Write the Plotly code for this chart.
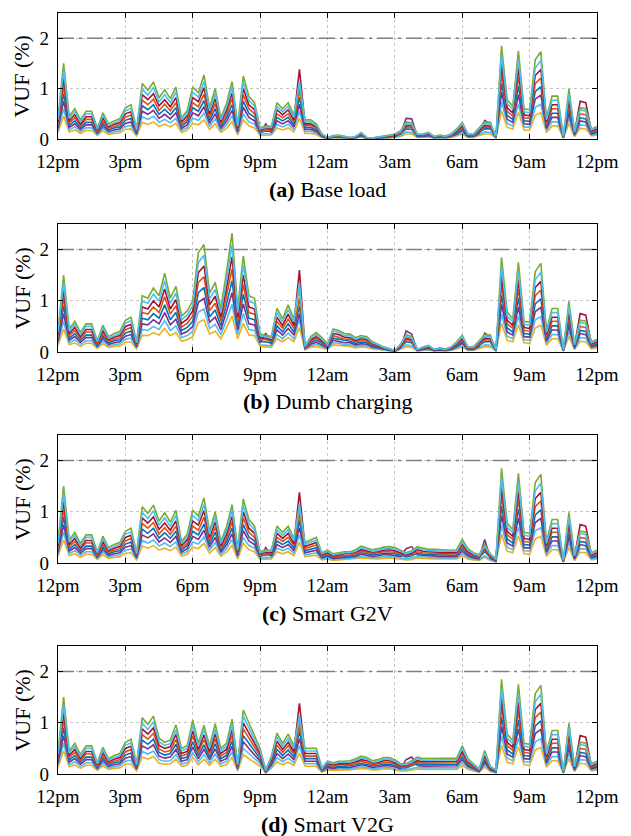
import plotly.graph_objects as go

# ---------------- data ----------------
# time axis: 15-min steps, hours after 12pm (0 .. 24)
hours = [i * 0.25 for i in range(97)]
tick_vals = [0, 3, 6, 9, 12, 15, 18, 21, 24]
tick_text = ["12pm", "3pm", "6pm", "9pm", "12am", "3am", "6am", "9am", "12pm"]

panel_titles = ["<b>(a)</b> Base load", "<b>(b)</b> Dumb charging",
                "<b>(c)</b> Smart G2V", "<b>(d)</b> Smart V2G"]

# (a) Base load: VUF (%) of 8 representative buses, 97 points each
base_s1 = [0.42,1.50,0.45,0.60,0.38,0.55,0.55,0.22,0.52,0.30,0.36,0.40,
           0.62,0.68,0.20,1.10,0.97,1.13,0.82,0.98,0.80,1.03,0.42,0.56,
           1.03,0.92,1.27,0.62,1.00,0.42,0.70,1.14,0.28,1.25,0.85,0.72,
           0.22,0.26,0.25,0.72,0.60,0.72,0.48,1.05,0.38,0.38,0.30,0.10,
           0.03,0.07,0.08,0.06,0.03,0.05,0.13,0.03,0.02,0.04,0.06,0.08,
           0.10,0.16,0.34,0.32,0.10,0.10,0.13,0.05,0.08,0.06,0.10,0.20,
           0.33,0.10,0.10,0.22,0.34,0.33,0.05,1.85,0.78,0.65,1.75,0.60,
           0.58,1.57,1.73,0.42,0.85,0.85,0.05,0.99,0.15,0.62,0.60,0.20,0.25]
base_s2 = [0.38,1.35,0.41,0.54,0.34,0.50,0.50,0.20,0.47,0.27,0.32,0.36,
           0.56,0.61,0.18,0.99,0.87,1.02,0.74,0.88,0.72,0.93,0.38,0.50,
           0.93,0.83,1.14,0.56,0.90,0.38,0.63,1.03,0.25,1.13,0.77,0.65,
           0.20,0.23,0.23,0.65,0.54,0.65,0.43,1.15,0.34,0.34,0.27,0.09,
           0.03,0.06,0.07,0.05,0.03,0.05,0.12,0.03,0.02,0.04,0.05,0.07,
           0.09,0.14,0.31,0.29,0.09,0.09,0.12,0.05,0.07,0.05,0.09,0.18,
           0.30,0.09,0.09,0.20,0.31,0.30,0.05,1.67,0.70,0.59,1.58,0.54,
           0.52,1.41,1.56,0.38,0.77,0.77,0.05,0.89,0.14,0.58,0.55,0.18,0.23]
base_s3 = [0.34,1.20,0.36,0.48,0.30,0.44,0.44,0.18,0.42,0.24,0.29,0.32,
           0.50,0.54,0.16,0.88,0.78,0.90,0.66,0.78,0.64,0.82,0.34,0.45,
           0.82,0.74,1.02,0.50,0.80,0.34,0.56,0.91,0.22,1.00,0.68,0.58,
           0.18,0.21,0.20,0.58,0.48,0.58,0.38,1.38,0.30,0.30,0.24,0.08,
           0.02,0.06,0.06,0.05,0.02,0.04,0.10,0.02,0.02,0.03,0.05,0.06,
           0.08,0.13,0.27,0.26,0.08,0.08,0.10,0.04,0.06,0.05,0.08,0.16,
           0.26,0.08,0.08,0.18,0.27,0.26,0.04,1.48,0.62,0.52,1.40,0.48,
           0.46,1.26,1.38,0.34,0.68,0.68,0.04,0.79,0.12,0.75,0.72,0.16,0.20]
base_s4 = [0.29,1.05,0.32,0.42,0.27,0.39,0.39,0.15,0.36,0.21,0.25,0.28,
           0.43,0.48,0.14,0.77,0.68,0.79,0.57,0.69,0.56,0.72,0.29,0.39,
           0.72,0.64,0.89,0.43,0.70,0.29,0.49,0.80,0.20,0.88,0.60,0.50,
           0.15,0.18,0.18,0.50,0.42,0.50,0.34,0.97,0.27,0.27,0.21,0.07,
           0.02,0.05,0.06,0.04,0.02,0.04,0.09,0.02,0.01,0.03,0.04,0.06,
           0.07,0.11,0.24,0.22,0.07,0.07,0.09,0.04,0.06,0.04,0.07,0.14,
           0.23,0.07,0.07,0.15,0.24,0.23,0.04,1.30,0.55,0.46,1.23,0.42,
           0.41,1.10,1.21,0.29,0.60,0.60,0.04,0.69,0.11,0.50,0.48,0.14,0.18]
base_s5 = [0.25,0.90,0.27,0.36,0.23,0.33,0.33,0.13,0.31,0.18,0.22,0.24,
           0.37,0.41,0.12,0.66,0.58,0.68,0.49,0.59,0.48,0.62,0.25,0.34,
           0.62,0.55,0.76,0.37,0.60,0.25,0.42,0.68,0.17,0.75,0.51,0.43,
           0.13,0.16,0.15,0.43,0.36,0.43,0.29,0.83,0.23,0.23,0.18,0.06,
           0.02,0.04,0.05,0.04,0.02,0.03,0.08,0.02,0.01,0.02,0.04,0.05,
           0.06,0.10,0.20,0.19,0.06,0.06,0.08,0.03,0.05,0.04,0.06,0.12,
           0.20,0.06,0.06,0.13,0.20,0.20,0.03,1.11,0.47,0.39,1.05,0.36,
           0.35,0.94,1.04,0.25,0.51,0.51,0.03,0.59,0.09,0.42,0.40,0.12,0.15]
base_s6 = [0.21,0.75,0.23,0.30,0.19,0.28,0.28,0.11,0.26,0.15,0.18,0.20,
           0.31,0.34,0.10,0.55,0.49,0.57,0.41,0.49,0.40,0.52,0.21,0.28,
           0.52,0.46,0.64,0.31,0.50,0.21,0.35,0.57,0.14,0.63,0.43,0.36,
           0.11,0.30,0.13,0.36,0.30,0.36,0.24,0.69,0.19,0.19,0.15,0.05,
           0.02,0.04,0.04,0.03,0.02,0.03,0.07,0.02,0.01,0.02,0.03,0.04,
           0.05,0.10,0.41,0.40,0.05,0.05,0.07,0.03,0.04,0.03,0.05,0.10,
           0.17,0.05,0.05,0.11,0.37,0.30,0.03,0.93,0.39,0.33,0.88,0.30,
           0.29,0.79,0.87,0.21,0.43,0.43,0.03,0.50,0.08,0.36,0.34,0.10,0.13]
base_s7 = [0.17,0.60,0.18,0.24,0.15,0.22,0.22,0.09,0.21,0.12,0.14,0.16,
           0.25,0.27,0.08,0.44,0.39,0.45,0.33,0.39,0.32,0.41,0.17,0.22,
           0.41,0.37,0.51,0.25,0.40,0.17,0.28,0.46,0.11,0.50,0.34,0.29,
           0.09,0.11,0.10,0.29,0.24,0.29,0.19,0.55,0.15,0.15,0.12,0.04,
           0.01,0.03,0.03,0.02,0.01,0.02,0.05,0.01,0.01,0.02,0.02,0.03,
           0.04,0.06,0.14,0.13,0.04,0.04,0.05,0.02,0.03,0.02,0.04,0.08,
           0.13,0.04,0.04,0.09,0.14,0.13,0.02,0.74,0.31,0.26,0.70,0.24,
           0.23,0.63,0.69,0.17,0.34,0.34,0.02,0.40,0.06,0.28,0.27,0.08,0.10]
base_s8 = [0.13,0.45,0.14,0.18,0.11,0.17,0.17,0.07,0.16,0.09,0.11,0.12,
           0.19,0.20,0.06,0.33,0.29,0.34,0.25,0.29,0.24,0.31,0.13,0.17,
           0.31,0.28,0.38,0.19,0.30,0.13,0.21,0.34,0.08,0.38,0.26,0.22,
           0.07,0.08,0.08,0.22,0.18,0.22,0.14,0.41,0.11,0.11,0.09,0.03,
           0.01,0.02,0.02,0.02,0.01,0.02,0.04,0.01,0.01,0.01,0.02,0.02,
           0.03,0.05,0.10,0.10,0.03,0.03,0.04,0.02,0.02,0.02,0.03,0.06,
           0.10,0.03,0.03,0.07,0.10,0.10,0.02,0.56,0.23,0.20,0.53,0.18,
           0.17,0.47,0.52,0.13,0.26,0.26,0.02,0.30,0.05,0.21,0.20,0.06,0.08]

# (b) Dumb charging: values that differ from base load, from 3:45pm (index 15) to 4am
dumb_start = 15
dumb_s1 = [1.10,1.05,1.25,1.10,1.54,1.05,1.28,0.70,0.80,1.00,
           1.94,2.10,1.15,1.36,0.85,1.55,2.32,0.85,1.88,1.10,
           1.05,0.35,0.33,0.30,0.85,0.65,0.92,0.65,1.25,0.12,
           0.30,0.38,0.28,0.16,0.45,0.42,0.36,0.35,0.28,0.32,
           0.30,0.20,0.15,0.10,0.07,0.03,0.15,0.34,0.30,0.05]
dumb_s2 = [0.99,0.95,1.13,0.99,1.39,0.95,1.15,0.63,0.72,0.90,
           1.75,1.89,1.04,1.22,0.77,1.40,2.09,0.77,1.69,0.99,
           0.95,0.32,0.30,0.27,0.77,0.59,0.83,0.59,1.35,0.11,
           0.27,0.34,0.25,0.14,0.41,0.38,0.32,0.32,0.25,0.29,
           0.27,0.18,0.14,0.09,0.06,0.03,0.14,0.31,0.27,0.05]
dumb_s3 = [0.88,0.84,1.00,0.88,1.23,0.84,1.02,0.56,0.64,0.80,
           1.55,1.68,0.92,1.09,0.68,1.24,1.86,0.68,1.50,0.88,
           0.84,0.28,0.27,0.24,0.68,0.52,0.74,0.52,1.60,0.10,
           0.24,0.30,0.22,0.13,0.36,0.34,0.29,0.28,0.22,0.26,
           0.24,0.16,0.12,0.08,0.06,0.02,0.12,0.27,0.24,0.04]
dumb_s4 = [0.77,0.74,0.88,0.77,1.08,0.74,0.90,0.49,0.56,0.70,
           1.36,1.47,0.81,0.95,0.60,1.09,1.62,0.60,1.32,0.77,
           0.74,0.25,0.24,0.21,0.60,0.46,0.64,0.46,1.05,0.08,
           0.21,0.27,0.20,0.11,0.32,0.29,0.25,0.25,0.20,0.22,
           0.21,0.14,0.11,0.07,0.05,0.02,0.11,0.24,0.21,0.04]
dumb_s5 = [0.66,0.63,0.75,0.66,0.92,0.63,0.77,0.42,0.48,0.60,
           1.16,1.26,0.69,0.82,0.51,0.93,1.39,0.51,1.13,0.66,
           0.63,0.21,0.20,0.18,0.51,0.39,0.55,0.39,0.90,0.07,
           0.18,0.23,0.17,0.10,0.27,0.25,0.22,0.21,0.17,0.19,
           0.18,0.12,0.09,0.06,0.04,0.02,0.09,0.20,0.18,0.03]
dumb_s6 = [0.55,0.53,0.63,0.55,0.77,0.53,0.64,0.35,0.40,0.50,
           0.97,1.05,0.58,0.68,0.43,0.78,1.16,0.43,0.94,0.55,
           0.53,0.18,0.37,0.15,0.43,0.33,0.46,0.33,0.75,0.06,
           0.15,0.19,0.14,0.08,0.23,0.21,0.18,0.18,0.14,0.16,
           0.15,0.10,0.08,0.05,0.04,0.02,0.08,0.41,0.35,0.03]
dumb_s7 = [0.44,0.42,0.50,0.44,0.62,0.42,0.51,0.28,0.32,0.40,
           0.78,0.84,0.46,0.54,0.34,0.62,0.93,0.34,0.75,0.44,
           0.42,0.14,0.13,0.12,0.34,0.26,0.37,0.26,0.64,0.05,
           0.12,0.15,0.11,0.06,0.18,0.17,0.14,0.14,0.11,0.13,
           0.12,0.08,0.06,0.04,0.03,0.01,0.06,0.14,0.12,0.02]
dumb_s8 = [0.33,0.32,0.38,0.33,0.46,0.32,0.38,0.21,0.24,0.30,
           0.58,0.63,0.35,0.41,0.26,0.47,0.70,0.26,0.56,0.33,
           0.32,0.11,0.10,0.09,0.26,0.20,0.28,0.20,0.48,0.04,
           0.09,0.11,0.08,0.05,0.14,0.13,0.11,0.11,0.08,0.10,
           0.09,0.06,0.05,0.03,0.02,0.01,0.05,0.10,0.09,0.02]

# (c) Smart G2V: values that differ from base load, 11pm (index 44) to 7:30am
g2v_start = 44
g2v_s1 = [0.40,0.45,0.50,0.20,0.25,0.18,0.20,0.22,0.22,0.26,
          0.33,0.30,0.26,0.28,0.31,0.32,0.30,0.25,0.20,0.24,
          0.32,0.29,0.27,0.27,0.26,0.25,0.25,0.26,0.46,0.28,
          0.20,0.16,0.36,0.18,0.08]
g2v_s2 = [0.36,0.41,0.45,0.18,0.23,0.16,0.18,0.20,0.20,0.23,
          0.30,0.27,0.23,0.25,0.28,0.29,0.27,0.23,0.18,0.22,
          0.29,0.26,0.24,0.24,0.23,0.23,0.23,0.23,0.41,0.25,
          0.18,0.14,0.32,0.16,0.07]
g2v_s3 = [0.32,0.36,0.40,0.16,0.20,0.14,0.16,0.18,0.18,0.21,
          0.26,0.24,0.21,0.22,0.25,0.26,0.24,0.20,0.16,0.19,
          0.26,0.23,0.22,0.22,0.21,0.20,0.20,0.21,0.37,0.22,
          0.16,0.13,0.29,0.14,0.06]
g2v_s4 = [0.28,0.32,0.35,0.14,0.18,0.13,0.14,0.15,0.15,0.18,
          0.23,0.21,0.18,0.20,0.22,0.22,0.21,0.18,0.14,0.17,
          0.22,0.20,0.19,0.19,0.18,0.18,0.18,0.18,0.32,0.20,
          0.14,0.11,0.25,0.13,0.06]
g2v_s5 = [0.24,0.27,0.30,0.12,0.15,0.11,0.12,0.13,0.13,0.16,
          0.20,0.18,0.16,0.17,0.19,0.19,0.18,0.15,0.12,0.14,
          0.19,0.17,0.16,0.16,0.16,0.15,0.15,0.16,0.28,0.17,
          0.12,0.10,0.22,0.11,0.05]
g2v_s6 = [0.20,0.23,0.25,0.10,0.13,0.09,0.10,0.11,0.11,0.13,
          0.17,0.15,0.13,0.14,0.16,0.16,0.15,0.13,0.28,0.32,
          0.16,0.15,0.14,0.14,0.13,0.13,0.13,0.13,0.23,0.14,
          0.10,0.08,0.46,0.09,0.04]
g2v_s7 = [0.16,0.18,0.20,0.08,0.10,0.07,0.08,0.09,0.09,0.10,
          0.13,0.12,0.10,0.11,0.12,0.13,0.12,0.10,0.08,0.10,
          0.13,0.12,0.11,0.11,0.10,0.10,0.10,0.10,0.18,0.11,
          0.08,0.06,0.14,0.07,0.03]
g2v_s8 = [0.12,0.14,0.15,0.06,0.08,0.05,0.06,0.07,0.07,0.08,
          0.10,0.09,0.08,0.08,0.09,0.10,0.09,0.08,0.06,0.07,
          0.10,0.09,0.08,0.08,0.08,0.08,0.08,0.08,0.14,0.08,
          0.06,0.05,0.11,0.05,0.02]

# (d) Smart V2G: values that differ from base load, 4:30pm (index 18) to 7:30am
v2g_start = 18
v2g_s1 = [0.70,0.62,0.66,0.96,0.50,0.55,1.05,0.60,0.95,0.55,
          0.98,0.50,0.60,1.07,0.20,1.25,1.00,0.75,0.50,0.08,
          0.35,0.80,0.60,0.78,0.55,1.05,0.50,0.50,0.50,0.12,
          0.25,0.22,0.25,0.25,0.26,0.30,0.35,0.32,0.26,0.28,
          0.32,0.32,0.28,0.20,0.20,0.26,0.33,0.30,0.30,0.30,
          0.30,0.30,0.30,0.31,0.55,0.30,0.20,0.10,0.46,0.15,
          0.08]
v2g_s2 = [0.63,0.56,0.59,0.86,0.45,0.50,0.95,0.54,0.86,0.50,
          0.88,0.45,0.54,0.96,0.18,1.13,0.90,0.68,0.45,0.07,
          0.32,0.72,0.54,0.70,0.50,1.15,0.45,0.45,0.45,0.11,
          0.23,0.20,0.23,0.23,0.23,0.27,0.32,0.29,0.23,0.25,
          0.29,0.29,0.25,0.18,0.18,0.23,0.30,0.27,0.27,0.27,
          0.27,0.27,0.27,0.28,0.50,0.27,0.18,0.09,0.41,0.14,
          0.07]
v2g_s3 = [0.56,0.50,0.53,0.77,0.40,0.44,0.84,0.48,0.76,0.44,
          0.78,0.40,0.48,0.86,0.16,1.00,0.80,0.60,0.40,0.06,
          0.28,0.64,0.48,0.62,0.44,1.38,0.40,0.40,0.40,0.10,
          0.20,0.18,0.20,0.20,0.21,0.24,0.28,0.26,0.21,0.22,
          0.26,0.26,0.22,0.16,0.16,0.21,0.26,0.24,0.24,0.24,
          0.24,0.24,0.24,0.25,0.44,0.24,0.16,0.08,0.37,0.12,
          0.06]
v2g_s4 = [0.49,0.43,0.46,0.67,0.35,0.39,0.74,0.42,0.67,0.39,
          0.69,0.35,0.42,0.75,0.14,0.88,0.70,0.53,0.35,0.06,
          0.25,0.56,0.42,0.55,0.39,0.95,0.35,0.35,0.35,0.08,
          0.18,0.15,0.18,0.18,0.18,0.21,0.25,0.22,0.18,0.20,
          0.22,0.22,0.20,0.14,0.14,0.18,0.23,0.21,0.21,0.21,
          0.21,0.21,0.21,0.22,0.39,0.21,0.14,0.07,0.32,0.11,
          0.06]
v2g_s5 = [0.42,0.37,0.40,0.58,0.30,0.33,0.63,0.36,0.57,0.33,
          0.59,0.30,0.36,0.64,0.12,0.75,0.60,0.45,0.30,0.05,
          0.21,0.48,0.36,0.47,0.33,0.83,0.30,0.30,0.30,0.07,
          0.15,0.13,0.15,0.15,0.16,0.18,0.21,0.19,0.16,0.17,
          0.19,0.19,0.17,0.12,0.12,0.16,0.20,0.18,0.18,0.18,
          0.18,0.18,0.18,0.19,0.33,0.18,0.12,0.06,0.28,0.09,
          0.05]
v2g_s6 = [0.35,0.31,0.33,0.48,0.25,0.28,0.53,0.30,0.48,0.28,
          0.49,0.25,0.30,0.54,0.10,0.63,0.50,0.38,0.25,0.04,
          0.18,0.40,0.30,0.39,0.28,0.69,0.25,0.25,0.25,0.06,
          0.13,0.11,0.13,0.13,0.13,0.15,0.18,0.16,0.13,0.14,
          0.16,0.16,0.14,0.10,0.28,0.33,0.17,0.15,0.15,0.15,
          0.15,0.15,0.15,0.16,0.28,0.15,0.10,0.05,0.23,0.08,
          0.04]
v2g_s7 = [0.28,0.25,0.26,0.38,0.20,0.22,0.42,0.24,0.38,0.22,
          0.39,0.20,0.24,0.43,0.08,0.50,0.40,0.30,0.20,0.03,
          0.14,0.32,0.24,0.31,0.22,0.55,0.20,0.20,0.20,0.05,
          0.10,0.09,0.10,0.10,0.10,0.12,0.14,0.13,0.10,0.11,
          0.13,0.13,0.11,0.08,0.08,0.10,0.13,0.12,0.12,0.12,
          0.12,0.12,0.12,0.12,0.22,0.12,0.08,0.04,0.18,0.06,
          0.03]
v2g_s8 = [0.21,0.19,0.20,0.29,0.15,0.17,0.32,0.18,0.29,0.17,
          0.29,0.15,0.18,0.32,0.06,0.38,0.30,0.23,0.15,0.02,
          0.11,0.24,0.18,0.23,0.17,0.41,0.15,0.15,0.15,0.04,
          0.08,0.07,0.08,0.08,0.08,0.09,0.11,0.10,0.08,0.08,
          0.10,0.10,0.08,0.06,0.06,0.08,0.10,0.09,0.09,0.09,
          0.09,0.09,0.09,0.09,0.17,0.09,0.06,0.03,0.14,0.05,
          0.02]

vuf_limit = 2.0

# ---------------- assembly ----------------
base = [base_s1, base_s2, base_s3, base_s4, base_s5, base_s6, base_s7, base_s8]
dumb = [dumb_s1, dumb_s2, dumb_s3, dumb_s4, dumb_s5, dumb_s6, dumb_s7, dumb_s8]
g2v = [g2v_s1, g2v_s2, g2v_s3, g2v_s4, g2v_s5, g2v_s6, g2v_s7, g2v_s8]
v2g = [v2g_s1, v2g_s2, v2g_s3, v2g_s4, v2g_s5, v2g_s6, v2g_s7, v2g_s8]


def splice(b, seg, start):
    return b[:start] + seg + b[start + len(seg):]


panels = [
    base,
    [splice(b, s, dumb_start) for b, s in zip(base, dumb)],
    [splice(b, s, g2v_start) for b, s in zip(base, g2v)],
    [splice(b, s, v2g_start) for b, s in zip(base, v2g)],
]

colors = ["#77AC30", "#4DBEEE", "#A2142F", "#D95319",
          "#0072BD", "#7E2F8E", "#4DBEEE", "#EDB120"]
draw_order = [7, 6, 5, 4, 3, 2, 0, 1]

# ---------------- figure ----------------
W, H = 631, 836
ML, MR, MT, MB = 58, 25, 13, 62
plot_h = H - MT - MB
panel_px = [(13, 139), (224, 352), (435, 563), (646, 774)]  # top, bottom pixel rows


def py(pix):
    return (H - MB - pix) / plot_h


FONT = "Liberation Serif"
fig = go.Figure()
annotations = []
shapes = []
for p, series in enumerate(panels):
    sfx = "" if p == 0 else str(p + 1)
    xa, ya = "x" + sfx, "y" + sfx
    for k in draw_order:
        fig.add_trace(go.Scatter(x=hours, y=series[k], mode="lines",
                                 line=dict(color=colors[k], width=1.6),
                                 xaxis=xa, yaxis=ya, showlegend=False,
                                 hoverinfo="skip"))
    shapes.append(dict(type="line", xref=xa, yref=ya, x0=hours[0], x1=hours[-1],
                       y0=vuf_limit, y1=vuf_limit, layer="between",
                       line=dict(color="#7f7f7f", width=1.5, dash="16px,5px,3px,5px")))
    top, bot = panel_px[p]
    dom = [py(bot), py(top)]
    common = dict(showline=True, linecolor="black", linewidth=1.3, mirror="ticks",
                  ticks="inside", ticklen=5, tickwidth=1, tickcolor="black",
                  showgrid=True, gridcolor="#c4c4c4", griddash="dot", gridwidth=1,
                  zeroline=False,
                  tickfont=dict(family=FONT, size=19, color="black"))
    fig.update_layout(**{
        "xaxis" + sfx: dict(domain=[0, 1], anchor=ya, range=[0, 24],
                            tickmode="array", tickvals=tick_vals, ticktext=tick_text,
                            ticklabelstandoff=5, **common),
        "yaxis" + sfx: dict(domain=dom, anchor=xa, range=[0, 2.5],
                            tickmode="array", tickvals=[0, 1, 2],
                            ticklabelstandoff=4, **common),
    })
    annotations.append(dict(xref="paper", yref="paper", x=(21 - ML) / (W - ML - MR),
                            y=py((top + bot) / 2), text="VUF (%)", textangle=-90,
                            showarrow=False, xanchor="center", yanchor="middle",
                            font=dict(family=FONT, size=22, color="black")))
    annotations.append(dict(xref="paper", yref="paper", x=0.5, y=py(bot + 50),
                            text=panel_titles[p], showarrow=False,
                            xanchor="center", yanchor="middle",
                            font=dict(family=FONT, size=22, color="black")))

fig.update_layout(width=W, height=H, margin=dict(l=ML, r=MR, t=MT, b=MB),
                  paper_bgcolor="white", plot_bgcolor="white",
                  annotations=annotations, shapes=shapes)

fig.write_html("out.html",
               config={"displayModeBar": False, "staticPlot": True},
               post_script="document.body.style.margin='0';"
                           "document.body.style.overflow='hidden';")
